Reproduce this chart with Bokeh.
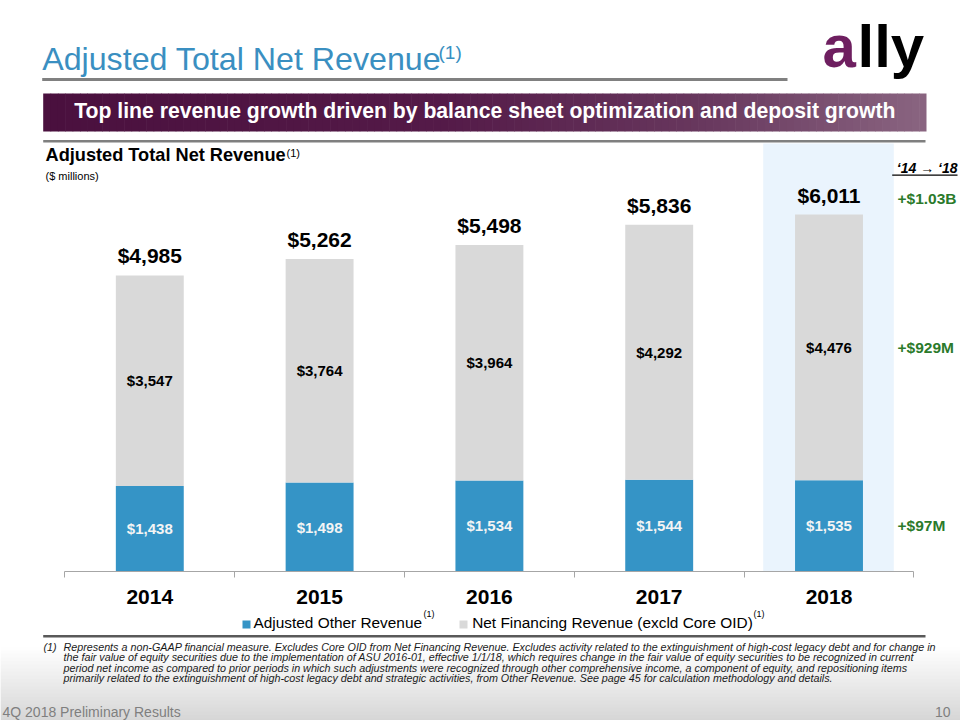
from bokeh.plotting import figure
from bokeh.models import Range1d, FixedTicker, ColumnDataSource
from bokeh.layouts import column
from bokeh.embed import file_html
from bokeh.resources import INLINE
from bokeh.core.properties import value

# ---------------- data ----------------
years = ["2014", "2015", "2016", "2017", "2018"]
other_revenue = [1438, 1498, 1534, 1544, 1535]
financing_revenue = [3547, 3764, 3964, 4292, 4476]
legend_labels = ["Adjusted Other Revenue", "Net Financing Revenue (excld Core OID)"]
title_text = "Adjusted Total Net Revenue"
banner_text = "Top line revenue growth driven by balance sheet optimization and deposit growth"
chart_title = "Adjusted Total Net Revenue"
units_text = "($ millions)"
footnote_mark = "(1)"
footnote_lines = [
    "Represents a non-GAAP financial measure. Excludes Core OID from Net Financing Revenue. Excludes activity related to the extinguishment of high-cost legacy debt and for change in",
    "the fair value of equity securities due to the implementation of ASU 2016-01, effective 1/1/18, which requires change in the fair value of equity securities to be recognized in current",
    "period net income as compared to prior periods in which such adjustments were recognized through other comprehensive income, a component of equity, and repositioning items",
    "primarily related to the extinguishment of high-cost legacy debt and strategic activities, from Other Revenue. See page 45 for calculation methodology and details.",
]
footer_text = "4Q 2018 Preliminary Results"
page_number = "10"

totals = [o + f for o, f in zip(other_revenue, financing_revenue)]
idx = list(range(len(years)))

# ---------------- style ----------------
FONT = value("Liberation Sans")
BLUE = "#3594c6"
GRAY = "#d9d9d9"
GREEN = "#2b7a2b"
TITLE_BLUE = "#3a8fc1"
PURPLE = "#6e1f60"
W = 960
H1 = 609
H2 = 111
AXIS_Y = 571          # pixel row of the category axis
PPU = 0.0594          # pixels per $M
STEP = 169.8          # pixels per category
C0 = 149.3            # pixel centre of first category

def money(v):
    return "${:,}".format(v)

# ---------------- figure 1: header + chart ----------------
p = figure(width=W, height=H1,
           x_range=Range1d(-C0 / STEP, (W - C0) / STEP), y_range=Range1d(0, AXIS_Y / PPU),
           output_backend="svg", toolbar_location=None, title=None, y_axis_location=None,
           min_border_left=0, min_border_right=0, min_border_top=0, min_border_bottom=H1 - AXIS_Y)
p.extra_x_ranges = {"px": Range1d(0, W)}
p.extra_y_ranges = {"px": Range1d(AXIS_Y, 0)}
p.outline_line_color = None
p.xgrid.visible = False
p.ygrid.visible = False
p.background_fill_color = "white"
p.border_fill_color = "white"

PX = dict(x_range_name="px", y_range_name="px")

# highlight column for latest year
p.quad(left=[762.7], right=[893.3], top=[143], bottom=[AXIS_Y], fill_color="#eaf4fd", line_color=None, **PX)

# title
p.text(x=[41.7], y=[58.5], text=[title_text], text_font=FONT, text_font_size="32.2px",
       text_color=TITLE_BLUE, text_baseline="middle", **PX)
p.text(x=[438], y=[52], text=[footnote_mark], text_font=FONT, text_font_size="19px",
       text_color=TITLE_BLUE, text_baseline="middle", **PX)
p.quad(left=[41.7], right=[787], top=[77.5], bottom=[80.5], fill_color="#808080", line_color=None, **PX)

# logo
p.text(x=[822], y=[46], text=["a"], text_font=FONT, text_font_style="bold", text_font_size="60px",
       text_color=PURPLE, text_baseline="middle", **PX)
p.text(x=[857], y=[46], text=["lly"], text_font=FONT, text_font_style="bold", text_font_size="60px",
       text_color="black", text_baseline="middle", **PX)

# banner gradient
def lerp(a, b, t):
    return tuple(int(round(a[i] + (b[i] - a[i]) * t)) for i in range(3))
stops = [(0.0, (74, 16, 62)), (0.45, (84, 26, 72)), (0.75, (104, 56, 94)), (1.0, (138, 101, 129))]
def grad(t):
    for (t0, c0), (t1, c1) in zip(stops[:-1], stops[1:]):
        if t <= t1:
            return lerp(c0, c1, (t - t0) / (t1 - t0))
    return stops[-1][1]
N = 120
bx0, bx1 = 42.7, 926.0
lefts = [bx0 + (bx1 - bx0) * i / N for i in range(N)]
rights = [bx0 + (bx1 - bx0) * (i + 1) / N + 0.6 for i in range(N)]
rights[-1] = bx1
cols = ["#%02x%02x%02x" % grad((i + 0.5) / N) for i in range(N)]
p.quad(left=lefts, right=rights, top=[93] * N, bottom=[131] * N, fill_color=cols, line_color=None, **PX)
p.text(x=[484.3], y=[110], text=[banner_text], text_font=FONT, text_font_style="bold",
       text_font_size="21.2px", text_color="white", text_align="center", text_baseline="middle", **PX)

# separator line
p.quad(left=[42.7], right=[925], top=[139.5], bottom=[142], fill_color="#7f7f7f", line_color=None, **PX)

# chart title
p.text(x=[45], y=[154.3], text=[chart_title], text_font=FONT, text_font_style="bold",
       text_font_size="18.2px", text_color="black", text_baseline="middle", **PX)
p.text(x=[286], y=[152], text=[footnote_mark], text_font=FONT, text_font_size="11px",
       text_color="black", text_baseline="middle", **PX)
p.text(x=[45], y=[175], text=[units_text], text_font=FONT, text_font_size="11px",
       text_color="black", text_baseline="middle", **PX)

# bars
src = ColumnDataSource(dict(
    x=idx, other=other_revenue, total=totals,
    other_mid=[o / 2 for o in other_revenue],
    fin_mid=[o + f / 2 for o, f in zip(other_revenue, financing_revenue)],
    total_lbl_y=[t + 19.4 / PPU for t in totals],
    other_lbl=[money(v) for v in other_revenue],
    fin_lbl=[money(v) for v in financing_revenue],
    total_lbl=[money(v) for v in totals],
))
p.vbar(x="x", bottom=0, top="other", width=0.4, fill_color=BLUE, line_color=None, source=src)
p.vbar(x="x", bottom="other", top="total", width=0.4, fill_color=GRAY, line_color=None, source=src)

p.text(x="x", y="other_mid", text="other_lbl", source=src, text_font=FONT, text_font_style="bold",
       text_font_size="15px", text_color="#f4f4f4", text_align="center", text_baseline="middle")
p.text(x="x", y="fin_mid", text="fin_lbl", source=src, text_font=FONT, text_font_style="bold",
       text_font_size="15px", text_color="black", text_align="center", text_baseline="middle")
p.text(x="x", y="total_lbl_y", text="total_lbl", source=src, text_font=FONT, text_font_style="bold",
       text_font_size="21px", text_color="black", text_align="center", text_baseline="middle")

# change annotations ('14 -> '18)
d_total = totals[-1] - totals[0]
d_fin = financing_revenue[-1] - financing_revenue[0]
d_other = other_revenue[-1] - other_revenue[0]
delta_x = (897 - C0) / STEP
p.text(x=[delta_x] * 3,
       y=[totals[-1] + 15.8 / PPU, other_revenue[-1] + financing_revenue[-1] / 2, other_revenue[-1] / 2],
       text=["+${:.2f}B".format(d_total / 1000), "+${:,}M".format(d_fin), "+${:,}M".format(d_other)],
       text_font=FONT, text_font_style="bold", text_font_size="15.5px", text_color=GREEN,
       text_baseline="middle")
period_text = "\u2018{} \u2192 \u2018{}".format(years[0][2:], years[-1][2:])
p.text(x=[957], y=[167.5], text=[period_text], text_font=FONT, text_font_style="bold italic",
       text_font_size="14px", text_color="black", text_align="right", text_baseline="middle", **PX)
p.quad(left=[891.7], right=[957], top=[174], bottom=[175.2], fill_color="black", line_color=None, **PX)

# x axis
ax = p.xaxis[0]
ax.ticker = FixedTicker(ticks=idx, minor_ticks=[i - 0.5 for i in idx] + [idx[-1] + 0.5])
ax.major_label_overrides = {i: y for i, y in zip(idx, years)}
ax.bounds = (-0.5, idx[-1] + 0.5)
ax.axis_line_color = "#a6a6a6"
ax.axis_line_width = 1
ax.major_tick_line_color = None
ax.major_tick_out = 0
ax.major_tick_in = 0
ax.minor_tick_line_color = "#a6a6a6"
ax.minor_tick_out = 6
ax.minor_tick_in = 0
ax.major_label_standoff = 12
ax.major_label_text_font = "Liberation Sans"
ax.major_label_text_font_style = "bold"
ax.major_label_text_font_size = "21px"
ax.major_label_text_color = "black"

# ---------------- figure 2: legend, footnote, footer ----------------
q = figure(width=W, height=H2, x_range=Range1d(0, W), y_range=Range1d(H1 + H2, H1),
           output_backend="svg", toolbar_location=None, title=None,
           x_axis_location=None, y_axis_location=None,
           min_border_left=0, min_border_right=0, min_border_top=0, min_border_bottom=0)
q.outline_line_color = None
q.xgrid.visible = False
q.ygrid.visible = False
q.background_fill_color = "white"
q.border_fill_color = "white"

# bottom gradient
g0, g1 = 646.0, 720.0
M = 74
gys = [g0 + (g1 - g0) * i / M for i in range(M + 1)]
gcols = []
for i in range(M):
    t = (i + 0.5) / M
    v = int(round(255 - (255 - 214) * t))
    gcols.append("#%02x%02x%02x" % (v, v, v))
q.quad(left=[0] * M, right=[W] * M, top=gys[:-1], bottom=[y + 0.6 for y in gys[1:]],
       fill_color=gcols, line_color=None)

# legend
q.quad(left=[242, 459], right=[250, 467], top=[620, 620], bottom=[628, 628],
       fill_color=[BLUE, GRAY], line_color=None)
q.text(x=[253, 471.7], y=[622.3, 622.3], text=legend_labels, text_font=FONT, text_font_size="15.4px",
       text_color="black", text_baseline="middle")
q.text(x=[423, 753], y=[613.5, 613.5], text=[footnote_mark, footnote_mark], text_font=FONT,
       text_font_size="9px", text_color="black", text_baseline="middle")

# separator
q.quad(left=[42.7], right=[925], top=[634.5], bottom=[637], fill_color="#595959", line_color=None)

# footnote
q.text(x=[43], y=[646.3], text=[footnote_mark], text_font=FONT, text_font_style="italic",
       text_font_size="10.75px", text_color="#1a1a1a", text_baseline="middle")
q.text(x=[63] * len(footnote_lines), y=[646.3 + 10.5 * i for i in range(len(footnote_lines))],
       text=footnote_lines, text_font=FONT, text_font_style="italic",
       text_font_size="10.75px", text_color="#1a1a1a", text_baseline="middle")

# footer
q.text(x=[2], y=[711], text=[footer_text], text_font=FONT, text_font_size="14px",
       text_color="#7f7f7f", text_baseline="middle")
q.text(x=[950], y=[711], text=[page_number], text_font=FONT, text_font_size="14px",
       text_color="#7f7f7f", text_align="right", text_baseline="middle")

layout = column(p, q, spacing=0)
open("out.html", "w").write(file_html(layout, INLINE))
